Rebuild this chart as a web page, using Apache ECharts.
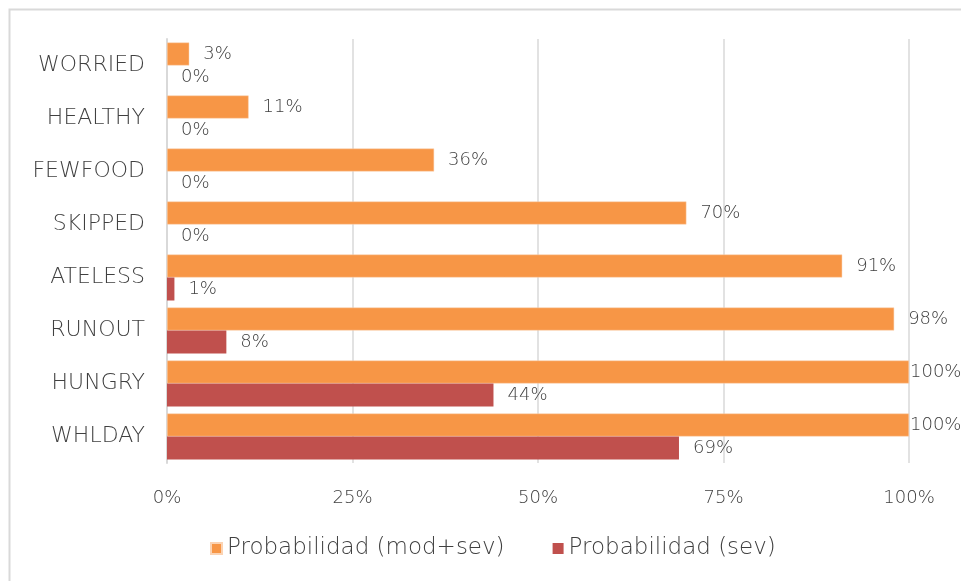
<!DOCTYPE html>
<html>
<head>
<meta charset="utf-8">
<script src="https://cdn.jsdelivr.net/npm/echarts@6/dist/echarts.min.js"></script>
<style>
  html, body { margin: 0; padding: 0; background: #fff; }
  #chart { width: 961px; height: 581px; }
</style>
</head>
<body>
<div id="chart"></div>
<script>
// Food insecurity items, top to bottom
const categories = ['WORRIED', 'HEALTHY', 'FEWFOOD', 'SKIPPED', 'ATELESS', 'RUNOUT', 'HUNGRY', 'WHLDAY'];
const probModSev = [3, 11, 36, 70, 91, 98, 100, 100];
const probSev = [0, 0, 0, 0, 1, 8, 44, 69];
const seriesNames = ['Probabilidad (mod+sev)', 'Probabilidad (sev)'];
const axisTicks = [0, 25, 50, 75, 100];

const FONT = '"DejaVu Sans", sans-serif';
const WEIGHT = 200;
const TEXT = '#404040';

// Labels at the far right sit flush against the bar end
function withLabels(values) {
  return values.map(v => v >= 100 ? { value: v, label: { distance: 1 } } : v);
}

const valueLabel = {
  show: true, position: 'right', distance: 14, formatter: '{c}%',
  fontSize: 18, color: TEXT, fontFamily: FONT, fontWeight: WEIGHT
};

const chart = echarts.init(document.getElementById('chart'));
chart.setOption({
  animation: false,
  textStyle: { fontFamily: FONT, color: TEXT, fontWeight: WEIGHT },
  graphic: [{
    type: 'rect',
    shape: { x: 9.5, y: 9.5, width: 1000, height: 1000 },
    style: { fill: 'none', stroke: '#d9d9d9', lineWidth: 2 },
    silent: true
  }],
  grid: { left: 167, right: 52, top: 39, bottom: 118, containLabel: false },
  xAxis: {
    type: 'value',
    min: axisTicks[0],
    max: axisTicks[axisTicks.length - 1],
    interval: axisTicks[1] - axisTicks[0],
    axisLine: { show: false },
    axisTick: { show: false },
    splitLine: { lineStyle: { color: '#d9d9d9', width: 1.5 } },
    axisLabel: { formatter: '{value}%', fontSize: 18, color: TEXT, margin: 26, fontFamily: FONT, fontWeight: WEIGHT }
  },
  yAxis: {
    type: 'category',
    data: categories,
    inverse: true,
    axisLine: { show: true, lineStyle: { color: '#d9d9d9', width: 2 } },
    axisTick: { show: false },
    axisLabel: { fontSize: 22, color: TEXT, margin: 22, fontFamily: FONT, fontWeight: WEIGHT }
  },
  legend: {
    bottom: 16,
    left: 205,
    icon: 'rect',
    itemWidth: 11,
    itemHeight: 11,
    itemGap: 48,
    textStyle: { fontSize: 23, color: TEXT, fontFamily: FONT, fontWeight: WEIGHT },
    data: seriesNames
  },
  series: [
    {
      name: seriesNames[0],
      type: 'bar',
      data: withLabels(probModSev),
      barWidth: 23,
      barGap: '0%',
      itemStyle: { color: '#f79646', borderColor: '#fbd3b3', borderWidth: 0.5 },
      label: valueLabel
    },
    {
      name: seriesNames[1],
      type: 'bar',
      data: withLabels(probSev),
      barWidth: 23,
      barGap: '0%',
      itemStyle: { color: '#c0504d' },
      label: valueLabel
    }
  ]
});
</script>
</body>
</html>
